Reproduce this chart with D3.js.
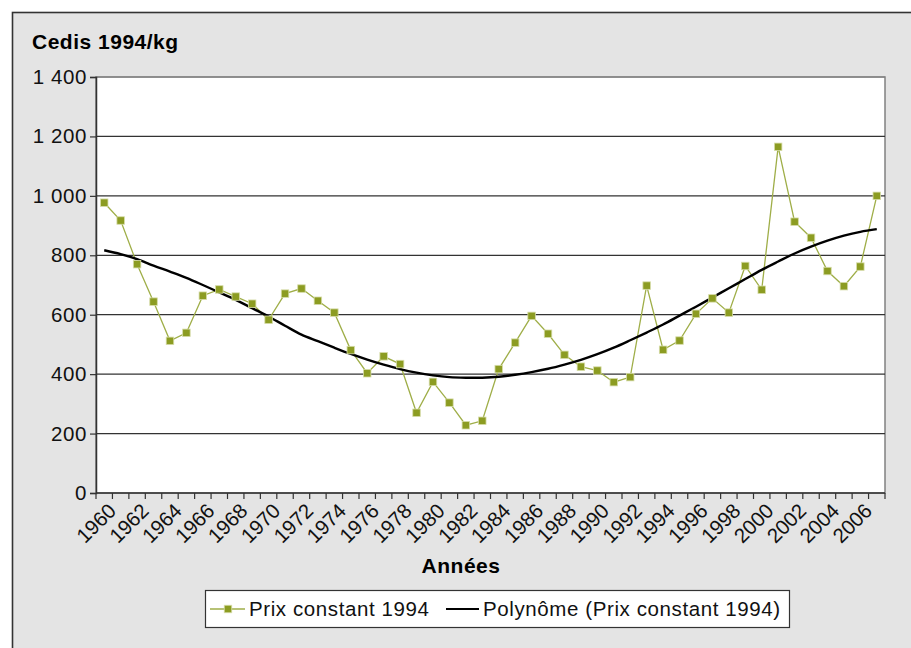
<!DOCTYPE html>
<html>
<head>
<meta charset="utf-8">
<script src="https://cdn.jsdelivr.net/npm/d3@7"></script>
<style>
  html, body { margin: 0; padding: 0; background: #ffffff; }
  svg { display: block; font-family: "Liberation Sans", Arial, Helvetica, sans-serif; }
</style>
</head>
<body>
<svg id="chart" width="911" height="648"></svg>
<script>
// ---- Data ----
const years = d3.range(1960, 2008);
const prixConstant = [
  977, 917, 770, 644, 512, 539, 664, 685, 661, 637,
  583, 671, 688, 647, 607, 481, 403, 460, 434, 270,
  374, 304, 228, 243, 417, 506, 596, 536, 465, 425,
  412, 373, 390, 698, 482, 513, 603, 655, 607, 764,
  684, 1165, 913, 859, 747, 696, 762, 1000
];
const polynome = [
  817, 804, 787, 765, 745, 724, 700, 675, 650, 622,
  594, 563, 533, 511, 489, 468, 449, 432, 417, 405,
  396, 390, 388, 388, 391, 398, 407, 418, 432, 448,
  467, 489, 514, 540, 567, 597, 627, 658, 689, 720,
  751, 779, 806, 829, 849, 866, 879, 888
];
const yTicks = [0, 200, 400, 600, 800, 1000, 1200, 1400];
const xLabelYears = years.filter(y => y % 2 === 0);
const yTitle = "Cedis 1994/kg";
const xTitle = "Années";
const seriesNames = ["Prix constant 1994", "Polynôme (Prix constant 1994)"];

// ---- Layout ----
const svg = d3.select("#chart");
const W = 911, H = 648;
const plot = { left: 96, right: 885, top: 77, bottom: 493 };
const green = "#8c9c22";
const greenLine = "#9fae48";
const FS = 20.5, LS = "0.6px";

// frame
svg.append("rect").attr("x", 0).attr("y", 0).attr("width", W).attr("height", H).attr("fill", "#ffffff");
svg.append("rect").attr("x", 12.5).attr("y", 12.5).attr("width", W).attr("height", H)
  .attr("fill", "#e4e4e4").attr("stroke", "#333333").attr("stroke-width", 1.6);

const x = d3.scaleBand().domain(years).range([plot.left, plot.right]).padding(0);
const y = d3.scaleLinear().domain([0, 1400]).range([plot.bottom, plot.top]);
const cx = d => x(d) + x.bandwidth() / 2;

// plot area
svg.append("rect").attr("x", plot.left).attr("y", plot.top)
  .attr("width", plot.right - plot.left).attr("height", plot.bottom - plot.top)
  .attr("fill", "#ffffff").attr("stroke", "#808080").attr("stroke-width", 1.5);

// gridlines
svg.append("g").selectAll("line").data(yTicks.filter(t => t > 0)).join("line")
  .attr("x1", plot.left).attr("x2", plot.right)
  .attr("y1", d => y(d)).attr("y2", d => y(d))
  .attr("stroke", d => d === 1400 ? "#808080" : "#333333").attr("stroke-width", 1.2);

// y axis
const fmt = v => d3.format(",")(v).replace(/,/g, " ");
const yAxis = svg.append("g").attr("transform", `translate(${plot.left},0)`)
  .call(d3.axisLeft(y).tickValues(yTicks).tickFormat(fmt).tickSize(6).tickPadding(3));
yAxis.select(".domain").attr("stroke", "#333333").attr("stroke-width", 1.5);
yAxis.selectAll(".tick line").attr("stroke", "#333333").attr("stroke-width", 1.2);
yAxis.selectAll(".tick text").attr("font-size", FS).attr("fill", "#111111")
  .attr("letter-spacing", LS)
  .attr("font-family", "Liberation Sans, Arial, sans-serif");

// x axis baseline and ticks at category boundaries
svg.append("line").attr("x1", plot.left).attr("x2", plot.right)
  .attr("y1", y(0)).attr("y2", y(0)).attr("stroke", "#333333").attr("stroke-width", 1.6);
const boundaries = years.map(d => x(d)).concat([x(years[years.length - 1]) + x.bandwidth()]);
svg.append("g").selectAll("line").data(boundaries).join("line")
  .attr("x1", d => d).attr("x2", d => d)
  .attr("y1", y(0)).attr("y2", y(0) + 6)
  .attr("stroke", "#333333").attr("stroke-width", 1.2);

// x labels rotated
svg.append("g").selectAll("text").data(xLabelYears).join("text")
  .attr("transform", d => `translate(${cx(d) + 8},${y(0) + 14}) rotate(-45)`)
  .attr("text-anchor", "end")
  .attr("dy", "0.35em")
  .attr("font-size", FS).attr("fill", "#111111")
  .text(d => d);

// series line
const lineGen = d3.line().x((d, i) => cx(years[i])).y(d => y(d));
svg.append("path").datum(prixConstant).attr("d", lineGen)
  .attr("fill", "none").attr("stroke", greenLine).attr("stroke-width", 1.3);

// trend line
const trendGen = d3.line().x((d, i) => cx(years[i])).y(d => y(d)).curve(d3.curveCatmullRom);
svg.append("path").datum(polynome).attr("d", trendGen)
  .attr("fill", "none").attr("stroke", "#000000").attr("stroke-width", 2.4);

// markers
const ms = 7.5;
svg.append("g").selectAll("rect").data(prixConstant).join("rect")
  .attr("x", (d, i) => cx(years[i]) - ms / 2).attr("y", d => y(d) - ms / 2)
  .attr("width", ms).attr("height", ms)
  .attr("fill", green).attr("stroke", "#d6dca8").attr("stroke-width", 0.8);

// titles
svg.append("text").attr("x", 32).attr("y", 49).attr("font-size", 21).attr("font-weight", "bold")
  .attr("letter-spacing", "0.5px").attr("fill", "#000000").text(yTitle);
svg.append("text").attr("x", 461).attr("y", 573).attr("text-anchor", "middle")
  .attr("font-size", 21).attr("font-weight", "bold").attr("letter-spacing", "0.5px")
  .attr("fill", "#000000").text(xTitle);

// legend
const lg = svg.append("g");
lg.append("rect").attr("x", 205.5).attr("y", 590.5).attr("width", 584).attr("height", 37)
  .attr("fill", "#ffffff").attr("stroke", "#333333").attr("stroke-width", 1.2);
const ly = 609;
lg.append("line").attr("x1", 210).attr("x2", 245).attr("y1", ly).attr("y2", ly)
  .attr("stroke", greenLine).attr("stroke-width", 1.3);
lg.append("rect").attr("x", 228 - ms / 2).attr("y", ly - ms / 2).attr("width", ms).attr("height", ms)
  .attr("fill", green).attr("stroke", "#d6dca8").attr("stroke-width", 0.8);
lg.append("text").attr("x", 249).attr("y", ly + 7).attr("font-size", FS).attr("letter-spacing", LS)
  .attr("fill", "#111111").text(seriesNames[0]);
lg.append("line").attr("x1", 446).attr("x2", 479).attr("y1", ly).attr("y2", ly)
  .attr("stroke", "#000000").attr("stroke-width", 2);
lg.append("text").attr("x", 483).attr("y", ly + 7).attr("font-size", FS).attr("letter-spacing", LS)
  .attr("fill", "#111111").text(seriesNames[1]);
</script>
</body>
</html>
